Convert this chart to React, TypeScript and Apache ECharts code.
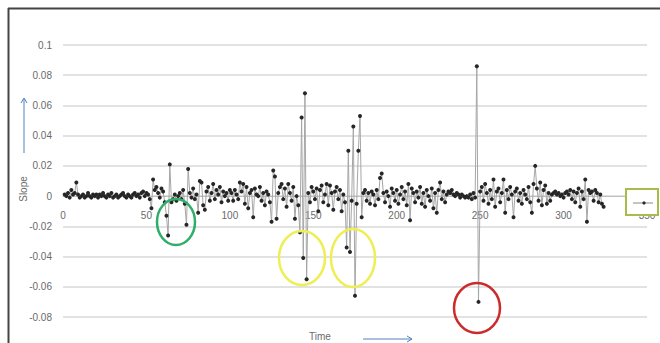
import React, { useEffect, useRef } from "react";
import * as echarts from "echarts";

// Slope value for time step 1, 2, 3, ...
const slope: number[] = [
  // 1-52
  0.001, 0.0, 0.002, -0.001, 0.004, 0.001, 0.002, 0.009, 0.001, -0.001,
  0.0, 0.001, -0.001, 0.0, 0.002, 0.0, -0.001, 0.001, 0.0, 0.001,
  -0.001, 0.001, 0.0, 0.002, 0.0, -0.001, 0.001, 0.0, 0.002, -0.001,
  0.0, 0.001, -0.001, 0.0, 0.001, 0.002, 0.0, -0.001, 0.001, 0.0,
  -0.001, 0.001, 0.002, 0.0, 0.001, -0.001, 0.002, 0.003, 0.0, 0.002,
  0.001, -0.002,
  // 53-62
  -0.008, 0.011, 0.004, 0.006, 0.002, -0.001, 0.005, 0.003, -0.004, -0.013,
  // 63-80
  -0.026, 0.021, -0.004, -0.002, 0.001, -0.003, 0.0, 0.002, -0.002, 0.004,
  -0.005, -0.019, 0.018, 0.002, -0.001, 0.005, -0.002, 0.001,
  // 81-100
  -0.011, 0.01, 0.009, -0.006, -0.009, 0.003, 0.006, -0.003, 0.002, 0.008,
  -0.002, 0.004, 0.001, 0.006, -0.004, 0.003, 0.0, 0.002, -0.003, 0.004,
  // 101-140
  0.002, -0.003, 0.004, 0.001, -0.002, 0.009, 0.003, 0.008, -0.005, 0.006,
  -0.008, 0.002, 0.004, -0.014, 0.005, 0.001, 0.0, 0.006, -0.003, 0.002,
  -0.006, 0.003, 0.001, -0.004, -0.017, 0.017, 0.013, -0.015, 0.002, 0.006,
  0.008, -0.002, 0.005, -0.007, 0.008, 0.002, -0.003, 0.006, -0.015, 0.0,
  // 141-150
  -0.006, -0.024, 0.052, -0.041, 0.068, -0.055, 0.002, -0.004, 0.006, 0.003,
  // 151-168
  -0.002, 0.005, -0.01, 0.004, 0.007, -0.004, 0.001, 0.008, -0.006, 0.007,
  0.002, -0.009, 0.003, 0.006, -0.002, 0.004, -0.01, 0.001,
  // 169-180
  -0.004, -0.034, 0.03, -0.037, -0.003, 0.046, -0.066, -0.005, 0.03, 0.053,
  -0.014, 0.002,
  // 181-245
  0.004, -0.003, 0.002, -0.005, 0.003, 0.001, -0.006, 0.004, -0.002, 0.012,
  0.015, 0.002, -0.004, 0.003, 0.0, -0.007, 0.005, 0.002, -0.003, 0.004,
  -0.005, 0.001, 0.006, -0.002, 0.003, -0.006, 0.008, -0.016, 0.005, 0.002,
  -0.004, 0.003, -0.001, 0.006, -0.005, 0.002, -0.007, 0.004, 0.0, -0.003,
  0.005, -0.008, 0.002, -0.011, 0.004, 0.009, -0.002, 0.003, -0.004, 0.001,
  0.003, 0.002, 0.004, 0.001, 0.0, 0.002, 0.001, -0.001, 0.001, 0.0,
  -0.001, 0.0, -0.001, 0.001, -0.002,
  // 246-250
  0.002, -0.001, 0.086, -0.07, 0.003,
  // 251-324
  0.006, -0.003, 0.008, 0.002, -0.005, 0.004, -0.002, 0.011, -0.007, 0.003,
  0.005, -0.004, 0.002, 0.011, -0.011, 0.004, -0.002, 0.006, 0.001, -0.014,
  0.003, 0.005, -0.003, 0.002, -0.005, 0.004, 0.001, -0.002, 0.006, -0.004,
  -0.011, 0.008, 0.02, 0.005, -0.003, 0.009, -0.006, 0.004, 0.007, -0.005,
  0.002, -0.003, 0.001, 0.002, 0.003, 0.001, 0.002, 0.0, 0.001, -0.001,
  0.002, 0.003, 0.001, 0.004, -0.002, 0.003, -0.004, 0.002, 0.005, -0.007,
  0.003, -0.002, 0.011, -0.017, 0.004, 0.002, 0.003, -0.003, 0.004, 0.002,
  -0.004, 0.001, -0.005, -0.007,
];

const timeStart = 1;
const yMin = -0.08;
const yMax = 0.1;
const yStep = 0.02;
const xMin = 0;
const xMax = 350;
const xStep = 50;

const gridTop = 45;
const gridBottom = 26;
const chartH = 343;

export default function App() {
  const ref = useRef<HTMLDivElement>(null);
  useEffect(() => {
    document.body.style.margin = "0";
    if (!ref.current) return;
    const chart = echarts.init(ref.current, undefined, { renderer: "svg" });
    const data = slope.map((v, i) => [timeStart + i, v]);
    const font = "Liberation Sans";
    const blue = "#4f81bd";
    // raise the x axis so it crosses at y = 0 (like Excel)
    const plotH = chartH - gridTop - gridBottom;
    const zeroFromBottom = plotH * ((0 - yMin) / (yMax - yMin));
    chart.setOption({
      animation: false,
      backgroundColor: "#ffffff",
      grid: { left: 63, right: 13, top: gridTop, bottom: gridBottom, containLabel: false },
      xAxis: {
        type: "value",
        min: xMin,
        max: xMax,
        interval: xStep,
        offset: -zeroFromBottom,
        axisLine: { show: true, onZero: false, lineStyle: { color: "#bfbfbf", width: 1 } },
        axisTick: { show: false },
        splitLine: { show: false },
        axisLabel: { color: "#6a6a6a", fontSize: 10, fontFamily: font, margin: 14 },
      },
      yAxis: {
        type: "value",
        min: yMin,
        max: yMax,
        interval: yStep,
        axisLine: { show: false, onZero: false },
        axisTick: { show: false },
        splitLine: { show: true, lineStyle: { color: "#d9d9d9", width: 1.5 } },
        axisLabel: {
          color: "#6a6a6a",
          fontSize: 10,
          fontFamily: font,
          margin: 11,
          formatter: (v: number) => String(+v.toFixed(2)),
        },
      },
      series: [
        {
          type: "line",
          data,
          symbol: "circle",
          symbolSize: 4,
          showSymbol: true,
          lineStyle: { color: "#a6a6a6", width: 1 },
          itemStyle: { color: "#262626" },
          z: 3,
        },
      ],
      graphic: [
        // frame
        { type: "line", shape: { x1: 8, y1: 8.5, x2: 660, y2: 8.5 }, style: { stroke: "#444", lineWidth: 2 } },
        { type: "line", shape: { x1: 8.5, y1: 8, x2: 8.5, y2: 343 }, style: { stroke: "#444", lineWidth: 2 } },
        // Slope title and arrow
        {
          type: "text",
          x: 23,
          y: 189,
          rotation: Math.PI / 2,
          style: {
            text: "Slope",
            fill: "#6a6a6a",
            fontSize: 10,
            fontFamily: font,
            align: "center",
            verticalAlign: "middle",
          },
        },
        { type: "line", shape: { x1: 24, y1: 153, x2: 24, y2: 99 }, style: { stroke: blue, lineWidth: 1 } },
        { type: "polyline", shape: { points: [[21, 103], [24, 98], [27, 103]] }, style: { stroke: blue, lineWidth: 1, fill: "none" } },
        // Time title and arrow
        {
          type: "text",
          x: 320,
          y: 336,
          style: {
            text: "Time",
            fill: "#6a6a6a",
            fontSize: 10,
            fontFamily: font,
            align: "center",
            verticalAlign: "middle",
          },
        },
        { type: "line", shape: { x1: 363, y1: 339, x2: 412, y2: 339 }, style: { stroke: blue, lineWidth: 1 } },
        { type: "polyline", shape: { points: [[407, 336], [412, 339], [407, 342]] }, style: { stroke: blue, lineWidth: 1, fill: "none" } },
        // annotation ellipses
        { type: "ellipse", shape: { cx: 176, cy: 222, rx: 19, ry: 23 }, style: { fill: "none", stroke: "#2fae6a", lineWidth: 2.5 }, z: 10 },
        { type: "ellipse", shape: { cx: 302, cy: 258, rx: 23, ry: 27 }, style: { fill: "none", stroke: "#eeee55", lineWidth: 2.5 }, z: 10 },
        { type: "ellipse", shape: { cx: 353, cy: 258, rx: 22, ry: 29 }, style: { fill: "none", stroke: "#eeee55", lineWidth: 2.5 }, z: 10 },
        { type: "ellipse", shape: { cx: 477, cy: 308, rx: 23, ry: 25 }, style: { fill: "none", stroke: "#cc2b2b", lineWidth: 2.5 }, z: 10 },
        // legend box
        { type: "rect", shape: { x: 626, y: 189, width: 32, height: 26 }, style: { fill: "#ffffff", stroke: "#a9bb4a", lineWidth: 2 }, z: 10 },
        { type: "line", shape: { x1: 633, y1: 203, x2: 653, y2: 203 }, style: { stroke: "#8a8a8a", lineWidth: 1 }, z: 11 },
        { type: "circle", shape: { cx: 644, cy: 203, r: 1.6 }, style: { fill: "#2a2a2a" }, z: 11 },
      ],
    });
    return () => chart.dispose();
  }, []);
  return <div ref={ref} style={{ width: 660, height: 343 }} />;
}
